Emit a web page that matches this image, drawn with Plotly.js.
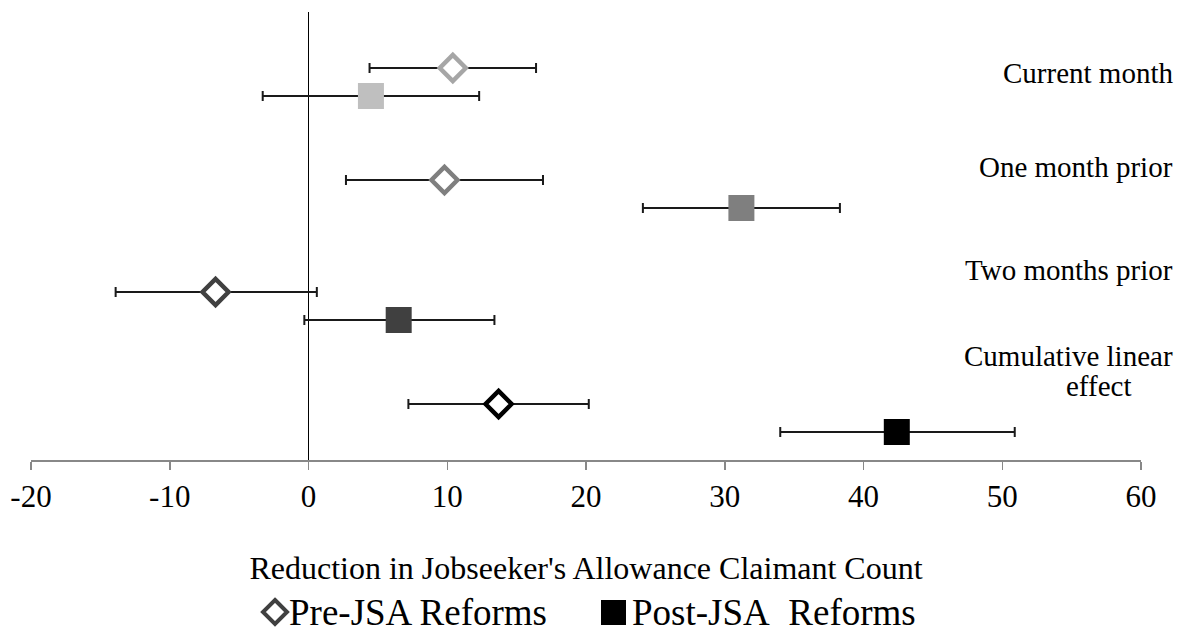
<!DOCTYPE html>
<html><head><meta charset="utf-8">
<script src="https://cdn.plot.ly/plotly-3.0.1.min.js"></script>
<style>html,body{margin:0;padding:0;background:#fff}#chart{width:1188px;height:635px}</style>
</head><body><div id="chart"></div>
<script>
const categories = ["Current month", "One month prior", "Two months prior", "Cumulative linear effect"];
const preEstimate = [10.4, 9.8, -6.7, 13.7];
const preLower = [4.4, 2.7, -13.9, 7.2];
const preUpper = [16.4, 16.9, 0.6, 20.2];
const postEstimate = [4.5, 31.2, 6.5, 42.4];
const postLower = [-3.3, 24.1, -0.3, 34.0];
const postUpper = [12.3, 38.3, 13.4, 50.9];
const seriesNames = ["Pre-JSA Reforms", "Post-JSA\u00a0 Reforms"];
const xTicks = [-20, -10, 0, 10, 20, 30, 40, 50, 60];

const FONT = "'Liberation Serif', 'DejaVu Serif', serif";
const preColors = ["#a6a6a6", "#7f7f7f", "#404040", "#000000"];
const postColors = ["#bfbfbf", "#7f7f7f", "#404040", "#000000"];

const W = 1188, H = 635, M = {l: 31, r: 47, t: 12, b: 175};
const PW = W - M.l - M.r, PH = H - M.t - M.b;
const px2x = p => (p - M.l) / PW;
const px2y = p => (H - M.b - p) / PH;

const idx = categories.map((c, i) => i);
const preY = idx.map(i => i + 0.5);
const postY = idx.map(i => i + 0.75);

const errStyle = {type: "data", symmetric: false, color: "#1a1a1a", thickness: 2, width: 5};

const traces = [
  {
    type: "scatter", mode: "markers", x: preEstimate, y: preY, showlegend: false, name: seriesNames[0],
    error_x: Object.assign({array: preEstimate.map((v, i) => preUpper[i] - v), arrayminus: preEstimate.map((v, i) => v - preLower[i])}, errStyle),
    marker: {symbol: "diamond", size: 20, color: "#ffffff", line: {color: preColors, width: 4.5}}
  },
  {
    type: "scatter", mode: "markers", x: postEstimate, y: postY, showlegend: false, name: seriesNames[1],
    error_x: Object.assign({array: postEstimate.map((v, i) => postUpper[i] - v), arrayminus: postEstimate.map((v, i) => v - postLower[i])}, errStyle),
    marker: {symbol: "square", size: 26, color: postColors, line: {width: 0}}
  }
];

const labelY = [0.545, 1.384, 2.30];
const annotations = categories.slice(0, 3).map((c, i) => ({
  text: c, xref: "paper", yref: "y", x: 1.0306, y: labelY[i], xanchor: "right", yanchor: "middle",
  showarrow: false, font: {family: FONT, size: 29, color: "#000"}
}));
annotations.push({text: "Cumulative linear", xref: "paper", yref: "y", x: 1.0306, y: 3.071, xanchor: "right", yanchor: "middle", showarrow: false, font: {family: FONT, size: 29, color: "#000"}});
annotations.push({text: "effect", xref: "paper", yref: "y", x: 0.962, y: 3.339, xanchor: "center", yanchor: "middle", showarrow: false, font: {family: FONT, size: 29, color: "#000"}});

// custom legend (larger symbols than the built-in legend allows)
const legY = 612;
const dcx = 275, dr = 12;
const shapes = [
  {type: "path", xref: "paper", yref: "paper",
   path: `M ${px2x(dcx)},${px2y(legY - dr)} L ${px2x(dcx + dr)},${px2y(legY)} L ${px2x(dcx)},${px2y(legY + dr)} L ${px2x(dcx - dr)},${px2y(legY)} Z`,
   line: {color: "#404040", width: 4}, fillcolor: "#ffffff"},
  {type: "rect", xref: "paper", yref: "paper", x0: px2x(601), x1: px2x(626), y0: px2y(625), y1: px2y(600),
   line: {width: 0}, fillcolor: "#000000"}
];
annotations.push({text: seriesNames[0], xref: "paper", yref: "paper", x: px2x(287), y: px2y(legY), xanchor: "left", yanchor: "middle", showarrow: false, font: {family: FONT, size: 37, color: "#000"}});
annotations.push({text: seriesNames[1], xref: "paper", yref: "paper", x: px2x(630), y: px2y(legY), xanchor: "left", yanchor: "middle", showarrow: false, font: {family: FONT, size: 37, color: "#000"}});

const layout = {
  width: W, height: H,
  margin: {l: M.l, r: M.r, t: M.t, b: M.b, autoexpand: false},
  paper_bgcolor: "#fff", plot_bgcolor: "#fff",
  font: {family: FONT, color: "#000"},
  showlegend: false,
  xaxis: {
    range: [-20, 60], tickvals: xTicks, ticktext: xTicks.map(String),
    showgrid: false, zeroline: true, zerolinecolor: "#000", zerolinewidth: 1.3,
    showline: true, linecolor: "#888888", linewidth: 1.5,
    ticks: "outside", ticklen: 8, tickcolor: "#888888", tickwidth: 1.5,
    tickfont: {family: FONT, size: 31, color: "#000"},
    title: {text: "Reduction in Jobseeker's Allowance Claimant Count", font: {family: FONT, size: 32, color: "#000"}, standoff: 44},
    automargin: false, fixedrange: true
  },
  yaxis: {range: [4, 0], visible: false, showgrid: false, zeroline: false, fixedrange: true},
  annotations: annotations,
  shapes: shapes
};

Plotly.newPlot("chart", traces, layout, {displayModeBar: false, staticPlot: true});
</script>
</body></html>
